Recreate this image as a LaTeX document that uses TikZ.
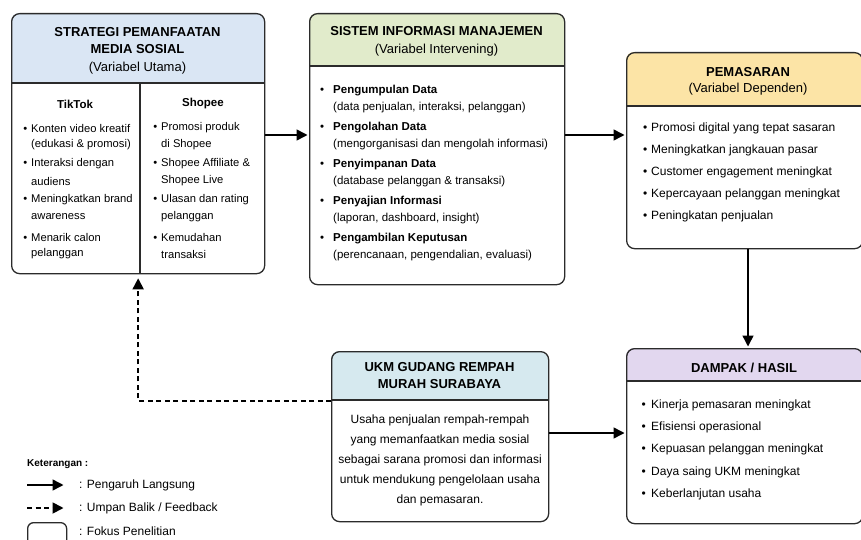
\documentclass[tikz,border=0pt]{standalone}
\usepackage{fontspec}
\setmainfont{Liberation Sans}
\usepackage{xcolor}
\usepackage{tikz}
\usetikzlibrary{arrows.meta,positioning,calc}

\definecolor{hdblue}{HTML}{DAE6F4}
\definecolor{hdgreen}{HTML}{E1EBCB}
\definecolor{hdyellow}{HTML}{FCE4A6}
\definecolor{hdcyan}{HTML}{D6E9EF}
\definecolor{hdlilac}{HTML}{E2D7EF}
\definecolor{edge}{HTML}{2B2B2B}

\newcommand{\bl}[1][4pt]{\llap{\textbullet\hspace{#1}}}

\begin{document}
\begin{tikzpicture}[x=1pt,y=-1pt,
	panel/.style={draw=edge,line width=1.3pt,rounded corners=8pt,anchor=north west,inner sep=0},
	sep/.style={draw=edge,line width=1.3pt},
	ttl/.style={font=\bfseries\fontsize{13}{15}\selectfont,inner sep=0},
	sub/.style={font=\fontsize{13}{15}\selectfont,inner sep=0},
	itm/.style={font=\fontsize{11.2}{13}\selectfont,anchor=west,inner sep=0},
	itmb/.style={font=\fontsize{11.5}{13}\selectfont,anchor=west,inner sep=0},
	itmc/.style={font=\fontsize{12}{14}\selectfont,anchor=west,inner sep=0},
	lg/.style={font=\fontsize{12}{14}\selectfont,anchor=west,inner sep=0},
	arr/.style={line width=1.5pt,-{Triangle[length=11pt,width=11pt]},shorten >=1.5pt},
	fb/.style={arr,line width=1.8pt,dash pattern=on 5pt off 3.5pt}]
	\useasboundingbox (0,0) rectangle (861,540);

	% header fills
	\begin{scope}
		\clip[rounded corners=8pt] (11,13) rectangle (264,273);
		\fill[hdblue] (11,13) rectangle (264,83);
	\end{scope}
	\begin{scope}
		\clip[rounded corners=8pt] (309,13) rectangle (564,284);
		\fill[hdgreen] (309,13) rectangle (564,66);
	\end{scope}
	\begin{scope}
		\clip[rounded corners=8pt] (626,52) rectangle (862,248);
		\fill[hdyellow] (626,52) rectangle (862,106);
	\end{scope}
	\begin{scope}
		\clip[rounded corners=8pt] (331,351) rectangle (548,521);
		\fill[hdcyan] (331,351) rectangle (548,400);
	\end{scope}
	\begin{scope}
		\clip[rounded corners=8pt] (626,348) rectangle (862,523);
		\fill[hdlilac] (626,348) rectangle (862,381);
	\end{scope}

	% boxes
	\node[panel,minimum width=253pt,minimum height=260pt] (strategi) at (11,13) {};
	\node[panel,minimum width=255pt,minimum height=271pt] (sim) at (309,13) {};
	\node[panel,minimum width=236pt,minimum height=196pt] (pemasaran) at (626,52) {};
	\node[panel,minimum width=217pt,minimum height=170pt] (ukm) at (331,351) {};
	\node[panel,minimum width=236pt,minimum height=175pt] (dampak) at (626,348) {};

	\draw[sep] (strategi.west |- 0,83) -- (strategi.east |- 0,83);
	\draw[sep] (140,83) -- (strategi.south -| 140,0);
	\draw[sep] (sim.west |- 0,66) -- (sim.east |- 0,66);
	\draw[sep] (pemasaran.west |- 0,106) -- (pemasaran.east |- 0,106);
	\draw[sep] (ukm.west |- 0,400) -- (ukm.east |- 0,400);
	\draw[sep] (dampak.west |- 0,381) -- (dampak.east |- 0,381);

	% strategi
	\node[ttl] (st1) at (137.5,32) {STRATEGI PEMANFAATAN};
	\node[ttl] (st2) at (137.5,49) {MEDIA SOSIAL};
	\node[sub] (st3) at (137.5,68) {(Variabel Utama)};
	\node[ttl,font=\bfseries\fontsize{11.5}{13}\selectfont] (tiktok) at (75,104) {TikTok};
	\node[ttl,font=\bfseries\fontsize{11.5}{13}\selectfont] (shopee) at (203,104) {Shopee};
	\foreach \y/\t [count=\i] in {128/\bl Konten video kreatif, 145/(edukasi \& promosi),
		164/\bl Interaksi dengan, 181/audiens, 200/\bl Meningkatkan brand, 217/awareness,
		237/\bl Menarik calon, 254/pelanggan}
		\node[itm] (tk\i) at (31,\y) {\t};
	\foreach \y/\t [count=\i] in {128/\bl Promosi produk, 145/di Shopee,
		164/\bl Shopee Affiliate \&, 181/Shopee Live, 200/\bl Ulasan dan rating, 217/pelanggan,
		237/\bl Kemudahan, 254/transaksi}
		\node[itm] (sp\i) at (161,\y) {\t};

	% sim
	\node[ttl] (sim1) at (436.5,31) {SISTEM INFORMASI MANAJEMEN};
	\node[sub] (sim2) at (436.5,50) {(Variabel Intervening)};
	\foreach \y/\t [count=\i] in {91/\bl[9pt]\textbf{Pengumpulan Data}, 108/{(data penjualan, interaksi, pelanggan)},
		128/\bl[9pt]\textbf{Pengolahan Data}, 145/(mengorganisasi dan mengolah informasi),
		165/\bl[9pt]\textbf{Penyimpanan Data}, 182/(database pelanggan \& transaksi),
		202/\bl[9pt]\textbf{Penyajian Informasi}, 219/{(laporan, dashboard, insight)},
		239/\bl[9pt]\textbf{Pengambilan Keputusan}, 256/{(perencanaan, pengendalian, evaluasi)}}
		\node[itmb] (si\i) at (333,\y) {\t};

	% pemasaran
	\node[ttl] (pm1) at (748,72) {PEMASARAN};
	\node[sub] (pm2) at (748,89) {(Variabel Dependen)};
	\foreach \y/\t [count=\i] in {128/Promosi digital yang tepat sasaran, 150/Meningkatkan jangkauan pasar,
		172/Customer engagement meningkat, 194/Kepercayaan pelanggan meningkat, 216/Peningkatan penjualan}
		\node[itmc] (pm\i) at (651,\y) {\bl\t};

	% ukm
	\node[ttl] (uk1) at (439.5,367) {UKM GUDANG REMPAH};
	\node[ttl] (uk2) at (439.5,384) {MURAH SURABAYA};
	\node[font=\fontsize{12}{20}\selectfont,align=center,inner sep=0] (uktxt) at (440,460)
		{Usaha penjualan rempah-rempah\\yang memanfaatkan media sosial\\sebagai sarana promosi dan informasi\\untuk mendukung pengelolaan usaha\\dan pemasaran.};

	% dampak
	\node[ttl] (dp1) at (744,368) {DAMPAK / HASIL};
	\foreach \y/\t [count=\i] in {405/Kinerja pemasaran meningkat, 427/Efisiensi operasional,
		449/Kepuasan pelanggan meningkat, 472/Daya saing UKM meningkat, 494/Keberlanjutan usaha}
		\node[itmc] (dh\i) at (651,\y) {\bl[5.5pt]\t};

	% arrows
	\draw[arr] (strategi.east |- 0,135) -- (sim.west |- 0,135);
	\draw[arr] (sim.east |- 0,135) -- (pemasaran.west |- 0,135);
	\draw[arr] (pemasaran.south -| 748,0) -- (dampak.north -| 748,0);
	\draw[arr] (ukm.east |- 0,433) -- (dampak.west |- 0,433);
	\draw[fb,shorten >=4pt] (ukm.west |- 0,401) -| (strategi.south);

	% legend
	\node[font=\bfseries\fontsize{10}{12}\selectfont,anchor=west,inner sep=0] (ket) at (27,464) {Keterangan :};
	\coordinate (la) at (27,485);
	\coordinate (lb) at (65,485);
	\coordinate (lc) at (27,508);
	\coordinate (ld) at (65,508);
	\draw[arr] (la) -- (lb);
	\draw[fb] (lc) -- (ld);
	\node[lg] (lg1) at (79,485) {: Pengaruh Langsung};
	\node[lg] (lg2) at (79,508) {: Umpan Balik / Feedback};
	\node[panel,rounded corners=6pt,minimum width=39pt,minimum height=24pt] (lgbox) at (27,522) {};
	\node[lg] (lg3) at (79,531) {: Fokus Penelitian};
\end{tikzpicture}
\end{document}
